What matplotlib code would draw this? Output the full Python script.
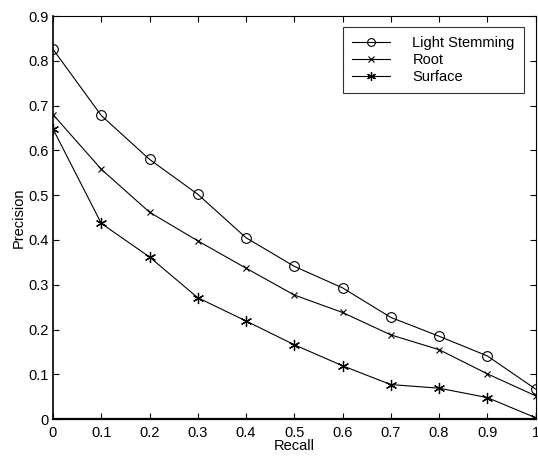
import matplotlib
matplotlib.use("Agg")
import matplotlib.pyplot as plt

plt.rcParams['font.family'] = ['Liberation Sans', 'DejaVu Sans']

recall = [0, 0.1, 0.2, 0.3, 0.4, 0.5, 0.6, 0.7, 0.8, 0.9, 1.0]
light_stemming = [0.826, 0.678, 0.580, 0.502, 0.405, 0.341, 0.293, 0.227, 0.185, 0.141, 0.067]
root = [0.680, 0.558, 0.462, 0.398, 0.337, 0.277, 0.238, 0.188, 0.155, 0.101, 0.052]
surface = [0.648, 0.437, 0.362, 0.271, 0.219, 0.166, 0.119, 0.077, 0.069, 0.048, 0.003]

xticks = [0, 0.1, 0.2, 0.3, 0.4, 0.5, 0.6, 0.7, 0.8, 0.9, 1]
xticklabels = ['0', '0.1', '0.2', '0.3', '0.4', '0.5', '0.6', '0.7', '0.8', '0.9', '1']
yticks = [0, 0.1, 0.2, 0.3, 0.4, 0.5, 0.6, 0.7, 0.8, 0.9]
yticklabels = ['0', '0.1', '0.2', '0.3', '0.4', '0.5', '0.6', '0.7', '0.8', '0.9']

fs = 10.5

fig = plt.figure(figsize=(5.38, 4.59), dpi=100)
ax = fig.add_axes([0.0985, 0.087, 0.897, 0.878])

ax.plot(recall, light_stemming, color='k', lw=0.8, marker='o', ms=7,
        mfc='none', mec='k', mew=0.8, label='Light Stemming')
ax.plot(recall, root, color='k', lw=0.8, marker='x', ms=5,
        mec='k', mew=0.8, label='Root')
ax.plot(recall, surface, color='k', lw=0.8, marker=(6, 2, 0), ms=8,
        mec='k', mew=0.9, label='Surface')

ax.set_xlim(0, 1)
ax.set_ylim(0, 0.9)
ax.set_xticks(xticks)
ax.set_xticklabels(xticklabels)
ax.set_yticks(yticks)
ax.set_yticklabels(yticklabels)
ax.tick_params(direction='in', top=True, right=True, length=4, width=0.8,
               labelsize=fs, pad=3, colors='k')
ax.tick_params(axis='x', pad=5)
for s in ax.spines.values():
    s.set_linewidth(0.8)
ax.spines['bottom'].set_linewidth(1.6)
ax.spines['left'].set_linewidth(1.2)

ax.set_xlabel('Recall', fontsize=fs, labelpad=-1)
ax.set_ylabel('Precision', fontsize=fs, labelpad=2)

leg = ax.legend(loc='upper right', bbox_to_anchor=(0.975, 0.973), fontsize=fs,
                frameon=True, fancybox=False, edgecolor='k', handlelength=2.6,
                handletextpad=1.55, borderpad=0.6, labelspacing=0.22,
                borderaxespad=0, markerscale=0.8)
leg.get_frame().set_linewidth(0.8)

fig.savefig('out.png', dpi=100)
